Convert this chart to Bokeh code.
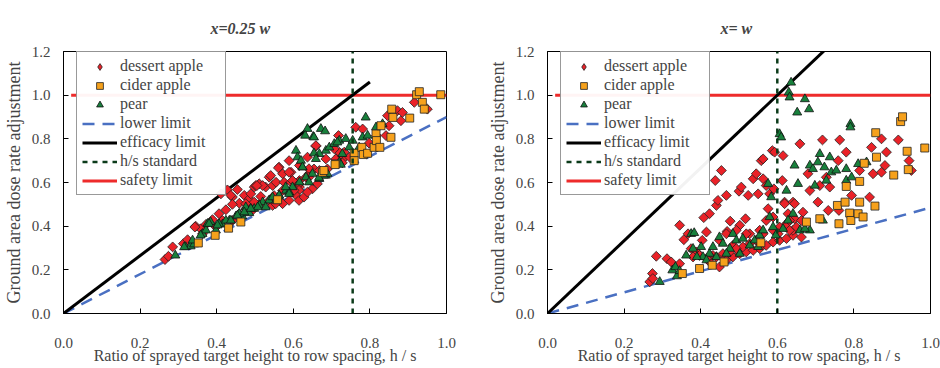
from bokeh.plotting import figure
from bokeh.layouts import row
from bokeh.models import Range1d, FixedTicker, PrintfTickFormatter, Legend, LegendItem, Title
from bokeh.embed import file_html
from bokeh.resources import INLINE

FONT = "Liberation Serif"
TICK_FONT = "Liberation Serif, Times, serif"

# ---------------- data: panel x = 0.25 w ----------------
LEFT_TITLE = "x=0.25 w"
LEFT_DESSERT = [
    (0.265, 0.247), (0.274, 0.262), (0.285, 0.305), (0.313, 0.320), (0.324, 0.338),
    (0.345, 0.400), (0.358, 0.388), (0.372, 0.408), (0.389, 0.430), (0.406, 0.457),
    (0.411, 0.548), (0.428, 0.566), (0.441, 0.533), (0.454, 0.568), (0.459, 0.505),
    (0.472, 0.541), (0.485, 0.525), (0.498, 0.579), (0.511, 0.594), (0.528, 0.579),
    (0.537, 0.624), (0.546, 0.586), (0.563, 0.670), (0.572, 0.640), (0.589, 0.700),
    (0.594, 0.647), (0.616, 0.678), (0.637, 0.716), (0.659, 0.766), (0.689, 0.662),
    (0.718, 0.815), (0.763, 0.853), (0.781, 0.845), (0.798, 0.780), (0.817, 0.815),
    (0.842, 0.815), (0.850, 0.860), (0.846, 0.906), (0.872, 0.929), (0.881, 0.883),
    (0.885, 0.921), (0.916, 0.967), (0.950, 0.936), (0.730, 0.708), (0.720, 0.723),
    (0.733, 0.739), (0.363, 0.365), (0.415, 0.426), (0.459, 0.457), (0.485, 0.487),
    (0.511, 0.500), (0.537, 0.518), (0.550, 0.540), (0.572, 0.563), (0.598, 0.556),
    (0.602, 0.601), (0.616, 0.609), (0.633, 0.624), (0.641, 0.640), (0.654, 0.662),
    (0.668, 0.655), (0.398, 0.396), (0.441, 0.426), (0.476, 0.480), (0.493, 0.472),
    (0.546, 0.495), (0.555, 0.601), (0.576, 0.601), (0.594, 0.601), (0.616, 0.579),
    (0.563, 0.518), (0.720, 0.739), (0.747, 0.716), (0.707, 0.754), (0.728, 0.690),
    (0.685, 0.708), (0.561, 0.667), (0.589, 0.647), (0.659, 0.769), (0.711, 0.708),
    (0.541, 0.632), (0.520, 0.586), (0.515, 0.536), (0.598, 0.609), (0.615, 0.594),
    (0.615, 0.564), (0.641, 0.663), (0.641, 0.624), (0.650, 0.571), (0.663, 0.594),
    (0.607, 0.541), (0.589, 0.518), (0.572, 0.503), (0.554, 0.503), (0.615, 0.518),
    (0.628, 0.533), (0.637, 0.556), (0.502, 0.586), (0.602, 0.564), (0.343, 0.396),
    (0.437, 0.541), (0.441, 0.500), (0.424, 0.475), (0.476, 0.503), (0.489, 0.548),
    (0.505, 0.586), (0.498, 0.510),
]
LEFT_CIDER = [
    (0.352, 0.323), (0.396, 0.358), (0.431, 0.391), (0.463, 0.419), (0.559, 0.521),
    (0.676, 0.647), (0.711, 0.685), (0.759, 0.734), (0.759, 0.700), (0.779, 0.761),
    (0.783, 0.728), (0.794, 0.734), (0.811, 0.761), (0.816, 0.822), (0.817, 0.792),
    (0.826, 0.761), (0.829, 0.860), (0.855, 0.807), (0.857, 0.936), (0.860, 0.898),
    (0.904, 0.895), (0.922, 1.002), (0.929, 1.016), (0.937, 0.967), (0.942, 0.936),
    (0.985, 1.002), (0.680, 0.655), (0.709, 0.682),
]
LEFT_PEAR = [
    (0.292, 0.266), (0.319, 0.305), (0.332, 0.308), (0.341, 0.317), (0.363, 0.365),
    (0.376, 0.411), (0.384, 0.419), (0.398, 0.381), (0.415, 0.408), (0.433, 0.426),
    (0.450, 0.445), (0.467, 0.445), (0.485, 0.460), (0.498, 0.480), (0.520, 0.510),
    (0.537, 0.518), (0.546, 0.533), (0.563, 0.540), (0.581, 0.563), (0.598, 0.579),
    (0.616, 0.601), (0.633, 0.624), (0.650, 0.640), (0.668, 0.617), (0.685, 0.632),
    (0.607, 0.746), (0.611, 0.716), (0.624, 0.670), (0.637, 0.846), (0.631, 0.815),
    (0.652, 0.810), (0.672, 0.846), (0.683, 0.835), (0.685, 0.746), (0.694, 0.761),
    (0.707, 0.777), (0.720, 0.792), (0.737, 0.800), (0.746, 0.761), (0.781, 0.807),
    (0.789, 0.898), (0.794, 0.815), (0.816, 0.853), (0.833, 0.868), (0.668, 0.731),
    (0.720, 0.693), (0.728, 0.731), (0.772, 0.761), (0.337, 0.335), (0.372, 0.381),
    (0.406, 0.411), (0.424, 0.426), (0.459, 0.457), (0.476, 0.487), (0.511, 0.495),
    (0.528, 0.487), (0.555, 0.518), (0.589, 0.556), (0.654, 0.807), (0.654, 0.734),
    (0.620, 0.700), (0.659, 0.708), (0.715, 0.784), (0.755, 0.792), (0.724, 0.682),
    (0.680, 0.632), (0.689, 0.640), (0.667, 0.622), (0.641, 0.601), (0.624, 0.670),
    (0.580, 0.579), (0.563, 0.541), (0.507, 0.487), (0.589, 0.548), (0.315, 0.304),
    (0.358, 0.358), (0.380, 0.411), (0.402, 0.404), (0.437, 0.426), (0.454, 0.449),
    (0.472, 0.464), (0.489, 0.480),
]
LEFT_LOWER_X, LEFT_LOWER_Y = [0.0, 1.0], [0.0, 0.9]
LEFT_EFFICACY_X, LEFT_EFFICACY_Y = [0.0, 0.8], [0.0, 1.06]
LEFT_STANDARD = 0.755

# ---------------- data: panel x = w ----------------
RIGHT_TITLE = "x= w"
RIGHT_DESSERT = [
    (0.267, 0.145), (0.274, 0.183), (0.284, 0.262), (0.275, 0.160), (0.312, 0.251),
    (0.323, 0.236), (0.345, 0.404), (0.356, 0.338), (0.345, 0.228), (0.367, 0.365),
    (0.375, 0.297), (0.389, 0.282), (0.404, 0.335), (0.408, 0.439), (0.415, 0.373),
    (0.423, 0.457), (0.432, 0.266), (0.419, 0.247), (0.428, 0.228), (0.441, 0.495),
    (0.438, 0.609), (0.454, 0.655), (0.445, 0.518), (0.467, 0.541), (0.477, 0.423),
    (0.469, 0.376), (0.484, 0.312), (0.500, 0.560), (0.506, 0.579), (0.502, 0.404),
    (0.517, 0.434), (0.524, 0.541), (0.537, 0.617), (0.545, 0.640), (0.550, 0.548),
    (0.558, 0.700), (0.563, 0.708), (0.563, 0.617), (0.571, 0.586), (0.576, 0.480),
    (0.580, 0.548), (0.587, 0.746), (0.593, 0.739), (0.591, 0.571), (0.615, 0.723),
    (0.613, 0.609), (0.619, 0.510), (0.641, 0.510), (0.659, 0.777), (0.645, 0.434),
    (0.667, 0.464), (0.680, 0.640), (0.685, 0.563), (0.706, 0.510), (0.718, 0.795),
    (0.711, 0.586), (0.728, 0.624), (0.733, 0.472), (0.737, 0.579), (0.759, 0.700),
    (0.761, 0.472), (0.763, 0.795), (0.780, 0.739), (0.794, 0.541), (0.815, 0.655),
    (0.841, 0.533), (0.846, 0.761), (0.850, 0.640), (0.872, 0.800), (0.872, 0.647),
    (0.881, 0.678), (0.885, 0.739), (0.916, 0.795), (0.944, 0.700), (0.950, 0.655),
    (0.449, 0.213), (0.467, 0.244), (0.484, 0.259), (0.502, 0.274), (0.519, 0.282),
    (0.537, 0.289), (0.554, 0.297), (0.571, 0.312), (0.589, 0.327), (0.606, 0.335),
    (0.624, 0.343), (0.641, 0.358), (0.589, 0.381), (0.606, 0.396), (0.624, 0.411),
    (0.641, 0.381), (0.628, 0.457), (0.619, 0.503), (0.563, 0.365), (0.545, 0.335),
    (0.528, 0.320), (0.510, 0.305), (0.493, 0.297), (0.476, 0.282), (0.458, 0.274),
    (0.441, 0.259), (0.415, 0.251), (0.397, 0.266), (0.380, 0.259), (0.554, 0.381),
    (0.571, 0.426), (0.589, 0.442), (0.602, 0.365), (0.632, 0.381), (0.650, 0.396),
    (0.663, 0.426), (0.632, 0.426), (0.645, 0.503), (0.663, 0.350), (0.528, 0.365),
    (0.467, 0.365), (0.449, 0.335), (0.493, 0.381), (0.519, 0.365),
]
RIGHT_CIDER = [
    (0.352, 0.183), (0.397, 0.206), (0.430, 0.221), (0.461, 0.236), (0.557, 0.324),
    (0.676, 0.419), (0.711, 0.434), (0.757, 0.495), (0.761, 0.411), (0.777, 0.510),
    (0.780, 0.582), (0.789, 0.460), (0.792, 0.426), (0.811, 0.457), (0.815, 0.605),
    (0.815, 0.510), (0.824, 0.442), (0.827, 0.688), (0.855, 0.492), (0.857, 0.828),
    (0.859, 0.716), (0.904, 0.634), (0.922, 0.879), (0.927, 0.901), (0.939, 0.743),
    (0.942, 0.659), (0.985, 0.758),
]
RIGHT_PEAR = [
    (0.293, 0.145), (0.326, 0.198), (0.334, 0.213), (0.338, 0.171), (0.345, 0.195),
    (0.362, 0.266), (0.380, 0.297), (0.375, 0.365), (0.383, 0.369), (0.401, 0.305),
    (0.406, 0.259), (0.423, 0.274), (0.432, 0.305), (0.449, 0.350), (0.458, 0.320),
    (0.476, 0.297), (0.484, 0.365), (0.493, 0.335), (0.502, 0.274), (0.510, 0.343),
    (0.528, 0.312), (0.541, 0.335), (0.554, 0.358), (0.563, 0.381), (0.576, 0.594),
    (0.580, 0.442), (0.584, 0.533), (0.596, 0.358), (0.606, 0.822), (0.610, 0.807),
    (0.615, 0.388), (0.624, 0.563), (0.630, 1.013), (0.632, 0.990), (0.636, 1.058),
    (0.641, 0.457), (0.645, 0.678), (0.652, 0.921), (0.654, 0.594), (0.672, 0.982),
    (0.683, 0.936), (0.685, 0.381), (0.685, 0.678), (0.693, 0.662), (0.698, 0.586),
    (0.706, 0.693), (0.711, 0.731), (0.723, 0.670), (0.728, 0.609), (0.737, 0.716),
    (0.741, 0.647), (0.754, 0.655), (0.780, 0.662), (0.780, 0.609), (0.791, 0.868),
    (0.791, 0.853), (0.794, 0.624), (0.811, 0.685), (0.833, 0.693), (0.719, 0.426),
    (0.628, 0.426), (0.589, 0.396), (0.659, 0.381), (0.672, 0.388), (0.550, 0.305),
    (0.467, 0.274), (0.441, 0.259), (0.415, 0.244), (0.390, 0.259),
]
RIGHT_LOWER_X, RIGHT_LOWER_Y = [0.0, 1.0], [0.0, 0.485]
RIGHT_EFFICACY_X, RIGHT_EFFICACY_Y = [0.0, 0.8], [0.0, 1.333]
RIGHT_STANDARD = 0.6

SAFETY_X, SAFETY_Y = [0.02, 1.0], [1.0, 1.0]
X_TICKS = [0.0, 0.2, 0.4, 0.6, 0.8, 1.0]
Y_TICKS = [0.0, 0.2, 0.4, 0.6, 0.8, 1.0, 1.2]
X_LABEL = "Ratio of sprayed target height to row spacing, h / s"
Y_LABEL = "Ground area dose rate adjustment"


def make_panel(title, title_offset, dessert, cider, pear, lower, efficacy, standard,
               border_left, border_right):
    p = figure(frame_width=383, frame_height=262, x_range=Range1d(0, 1), y_range=Range1d(0, 1.2),
               output_backend="svg", toolbar_location=None,
               min_border_left=border_left, min_border_right=border_right,
               min_border_top=51, min_border_bottom=55)
    p.title = Title(text=title, align="left", offset=title_offset, text_font=FONT,
                    text_font_style="bold italic", text_font_size="16px", standoff=30)
    p.outline_line_color = "black"
    p.outline_line_alpha = 1
    p.xgrid.visible = False
    p.ygrid.visible = False
    for ax, ticks in ((p.xaxis, X_TICKS), (p.yaxis, Y_TICKS)):
        ax.ticker = FixedTicker(ticks=ticks)
        ax.formatter = PrintfTickFormatter(format="%.1f")
        ax.major_tick_in = 5
        ax.major_tick_out = 0
        ax.minor_tick_line_color = None
        ax.major_label_text_font = TICK_FONT
        ax.major_label_text_font_size = "15px"
        ax.axis_label_text_font = FONT
        ax.axis_label_text_font_style = "normal"
    p.xaxis.axis_label = X_LABEL
    p.xaxis.axis_label_text_font_size = "16px"
    p.xaxis.major_label_standoff = 24
    p.xaxis.axis_label_standoff = -4
    p.yaxis.axis_label = Y_LABEL
    p.yaxis.axis_label_text_font_size = "18px"
    p.yaxis.major_label_standoff = 13
    p.yaxis.axis_label_standoff = 5

    r_safety = p.line(SAFETY_X, SAFETY_Y, line_color="#ee2b2b", line_width=3)
    r_lower = p.line(lower[0], lower[1], line_color="#4a70c2", line_width=2.5, line_dash="12 8")
    r_eff = p.line(efficacy[0], efficacy[1], line_color="black", line_width=3)

    r_d = p.scatter([a for a, b in dessert], [b for a, b in dessert], marker="square",
                    angle=0.7853981634, size=7, fill_color="#ea2228", line_color="#222222",
                    line_width=0.8)
    r_dkey = p.scatter([a for a, b in dessert], [b for a, b in dessert], marker="diamond",
                       size=12, fill_color="#ea2228", line_color="#222222", line_width=0.8,
                       visible=False)
    r_p = p.scatter([a for a, b in pear], [b for a, b in pear], marker="triangle",
                    size=9, fill_color="#18803c", line_color="#111111", line_width=0.8)
    r_c = p.scatter([a for a, b in cider], [b for a, b in cider], marker="square",
                    size=8, fill_color="#f6a11c", line_color="#222222", line_width=0.8)
    r_std = p.line([standard, standard], [0.0, 1.2], line_color="#0b3b1a", line_width=2.5,
                   line_dash="5 5")

    legend = Legend(items=[
        LegendItem(label="dessert apple", renderers=[r_dkey]),
        LegendItem(label="cider apple", renderers=[r_c]),
        LegendItem(label="pear", renderers=[r_p]),
        LegendItem(label="lower limit", renderers=[r_lower]),
        LegendItem(label="efficacy limit", renderers=[r_eff]),
        LegendItem(label="h/s standard", renderers=[r_std]),
        LegendItem(label="safety limit", renderers=[r_safety]),
    ], location=(13, 118))
    legend.label_text_font = FONT
    legend.label_text_font_size = "16px"
    legend.glyph_width = 35
    legend.glyph_height = 17
    legend.label_height = 17
    legend.spacing = 1
    legend.padding = 5
    legend.label_standoff = 3
    legend.label_width = 100
    legend.border_line_color = "#333333"
    legend.inactive_fill_alpha = 0
    legend.margin = 0
    p.add_layout(legend)
    return p


left = make_panel(LEFT_TITLE, 147, LEFT_DESSERT, LEFT_CIDER, LEFT_PEAR,
                  (LEFT_LOWER_X, LEFT_LOWER_Y), (LEFT_EFFICACY_X, LEFT_EFFICACY_Y),
                  LEFT_STANDARD, 58, 29)
right = make_panel(RIGHT_TITLE, 173, RIGHT_DESSERT, RIGHT_CIDER, RIGHT_PEAR,
                   (RIGHT_LOWER_X, RIGHT_LOWER_Y), (RIGHT_EFFICACY_X, RIGHT_EFFICACY_Y),
                   RIGHT_STANDARD, 72, 15)

layout = row(left, right)
open("out.html", "w").write(file_html(layout, INLINE))
